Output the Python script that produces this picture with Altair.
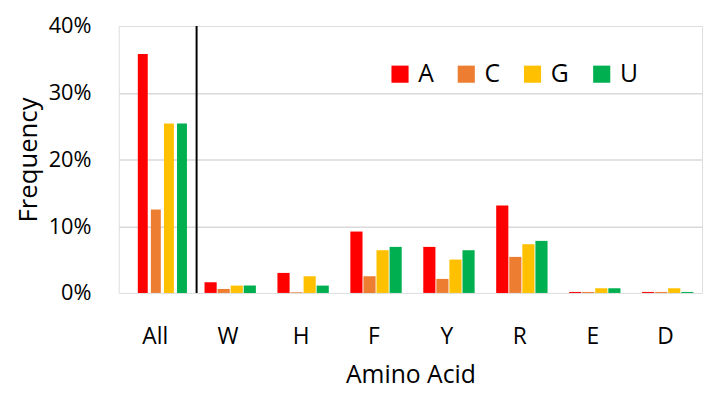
import altair as alt
import pandas as pd

amino = ["All", "W", "H", "F", "Y", "R", "E", "D"]
bases = ["A", "C", "G", "U"]
colors = ["#FF0000", "#ED7D31", "#FFC000", "#00B050"]

# Frequency (%) per amino acid, one list per base
freq_A = [35.8, 1.6, 3.0, 9.2, 6.9, 13.1, 0.15, 0.15]
freq_C = [12.5, 0.6, 0.1, 2.5, 2.1, 5.4, 0.15, 0.15]
freq_G = [25.4, 1.1, 2.5, 6.4, 5.0, 7.3, 0.7, 0.7]
freq_U = [25.4, 1.1, 1.1, 6.9, 6.4, 7.8, 0.7, 0.15]

y_ticks = [0, 10, 20, 30, 40]

rows = []
for b, vals in zip(bases, [freq_A, freq_C, freq_G, freq_U]):
    for a, v in zip(amino, vals):
        rows.append({"aa": a, "base": b, "freq": v})
df = pd.DataFrame(rows)

FONT = "Open Sans"

x_enc = alt.X(
    "aa:N",
    sort=amino,
    scale=alt.Scale(domain=amino, paddingInner=0, paddingOuter=0),
    axis=alt.Axis(
        title="Amino Acid",
        labelAngle=0,
        labelFontSize=23,
        labelColor="black",
        labelPadding=33,
        ticks=False,
        domain=False,
        titleFontSize=25,
        titleFontWeight="normal",
        titleColor="black",
        titlePadding=15,
        labelFont=FONT,
        titleFont=FONT,
    ),
)
xoff_enc = alt.XOffset(
    "base:N",
    sort=bases,
    scale=alt.Scale(domain=bases, paddingInner=0, paddingOuter=0.79),
)
y_enc = alt.Y(
    "freq:Q",
    scale=alt.Scale(domain=[0, 40], nice=False),
    axis=alt.Axis(
        title="Frequency",
        values=y_ticks,
        labelExpr="datum.value + '%'",
        labelFontSize=22,
        labelColor="black",
        labelPadding=28,
        ticks=False,
        domain=False,
        grid=True,
        gridColor={
            "condition": {"test": "datum.value == 0 || datum.value == 40", "value": "transparent"},
            "value": "#d9d9d9",
        },
        gridWidth=1.5,
        titleFontSize=26,
        titleFontWeight="normal",
        titleColor="black",
        titlePadding=7,
        labelFont=FONT,
        titleFont=FONT,
    ),
)
color_enc = alt.Color(
    "base:N",
    sort=bases,
    scale=alt.Scale(domain=bases, range=colors),
    legend=alt.Legend(
        title=None,
        orient="none",
        direction="horizontal",
        legendX=272,
        legendY=36,
        symbolType="square",
        symbolSize=300,
        symbolStrokeWidth=0,
        symbolOpacity=1,
        labelFontSize=25,
        labelFont=FONT,
        labelColor="black",
        labelOffset=6,
        columnPadding=20,
    ),
)

base = alt.Chart(df)

bars_all = base.transform_filter("datum.aa == 'All'").mark_bar(
    width=alt.RelativeBandSize(band=0.76), opacity=1
).encode(x=x_enc, xOffset=xoff_enc, y=y_enc, color=color_enc)

bars_rest = base.transform_filter("datum.aa != 'All'").mark_bar(
    width=alt.RelativeBandSize(band=0.93), opacity=1
).encode(x=x_enc, xOffset=xoff_enc, y=y_enc, color=color_enc)

sep = alt.Chart(pd.DataFrame({"aa": ["W"]})).mark_rule(
    color="black", strokeWidth=2, xOffset=5
).encode(
    x=alt.X("aa:N", sort=amino, bandPosition=0),
    y=alt.datum(0),
    y2=alt.datum(40),
)

chart = (
    alt.layer(bars_all, bars_rest, sep)
    .properties(
        width=590,
        height=270,
        autosize=alt.AutoSizeParams(type="none"),
        padding={"left": 112, "top": 16, "right": 6, "bottom": 98},
    )
    .configure_view(stroke="black", strokeWidth=2)
    .configure(background="white")
)

chart.save("out.html", embed_options={"renderer": "svg", "actions": False})
